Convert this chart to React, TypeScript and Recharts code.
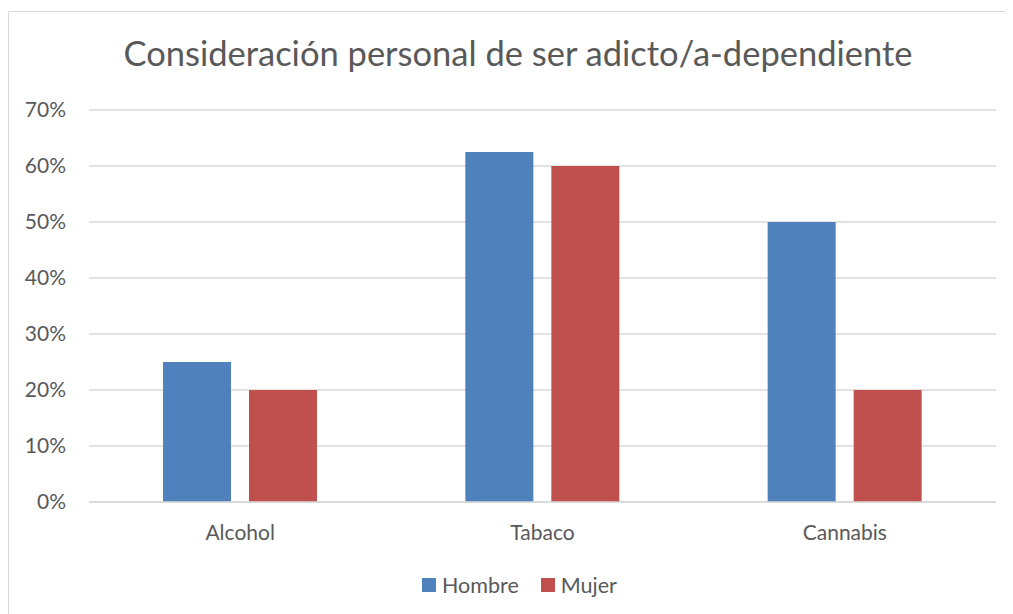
import React from "react";
import { BarChart, Bar, XAxis, YAxis, CartesianGrid } from "recharts";

const categories = ["Alcohol", "Tabaco", "Cannabis"];
const hombre = [0.25, 0.625, 0.5];
const mujer = [0.2, 0.6, 0.2];
const yTicks = [0, 0.1, 0.2, 0.3, 0.4, 0.5, 0.6, 0.7];
const seriesNames = ["Hombre", "Mujer"];
const seriesColors = ["#4f81bd", "#c0504d"];

const data = categories.map((c, i) => ({ name: c, Hombre: hombre[i], Mujer: mujer[i] }));

const FONT = "Lato, 'Noto Sans', sans-serif";

export default function App() {
  return (
    <div style={{ paddingTop: 3, fontFamily: FONT }}>
      <div
        style={{
          position: "relative",
          width: 1020,
          height: 620,
          border: "1px solid #d9d9d9",
          boxSizing: "border-box",
        }}
      >
        <div
          style={{
            position: "absolute",
            left: 0,
            top: 20,
            width: 1018,
            textAlign: "center",
            fontSize: 34.5,
            color: "#595959",
            whiteSpace: "nowrap",
          }}
        >
          Consideración personal de ser adicto/a-dependiente
        </div>
        <BarChart
          width={1004}
          height={600}
          data={data}
          margin={{ top: 98, right: 17, left: 0, bottom: 80 }}
          barGap={18}
          barSize={68}
          style={{ position: "absolute", left: 0, top: 0 }}
        >
          <CartesianGrid vertical={false} stroke="#d9d9d9" strokeWidth={1.3} />
          <XAxis
            dataKey="name"
            height={30}
            axisLine={{ stroke: "#d9d9d9", strokeWidth: 1.3 }}
            tickLine={false}
            tickSize={0}
            tickMargin={23}
            tick={{ fill: "#595959", fontSize: 21, fontFamily: FONT }}
          />
          <YAxis
            width={80}
            domain={[0, 0.7]}
            ticks={yTicks}
            axisLine={false}
            tickLine={false}
            tickSize={0}
            tickMargin={23}
            tickFormatter={(v: number) => `${Math.round(v * 100)}%`}
            tick={{ fill: "#595959", fontSize: 21, fontFamily: FONT }}
          />
          <Bar dataKey="Hombre" fill={seriesColors[0]} isAnimationActive={false} />
          <Bar dataKey="Mujer" fill={seriesColors[1]} isAnimationActive={false} />
        </BarChart>
        <div
          style={{
            position: "absolute",
            left: 413,
            top: 559,
            display: "flex",
            alignItems: "center",
            fontSize: 21.5,
            color: "#595959",
            lineHeight: "28px",
          }}
        >
          {seriesNames.map((n, i) => (
            <div key={n} style={{ display: "flex", alignItems: "center", marginRight: i === 0 ? 22 : 0 }}>
              <span
                style={{
                  display: "inline-block",
                  width: 14,
                  height: 14,
                  background: seriesColors[i],
                  marginRight: 6,
                }}
              />
              <span>{n}</span>
            </div>
          ))}
        </div>
      </div>
    </div>
  );
}
